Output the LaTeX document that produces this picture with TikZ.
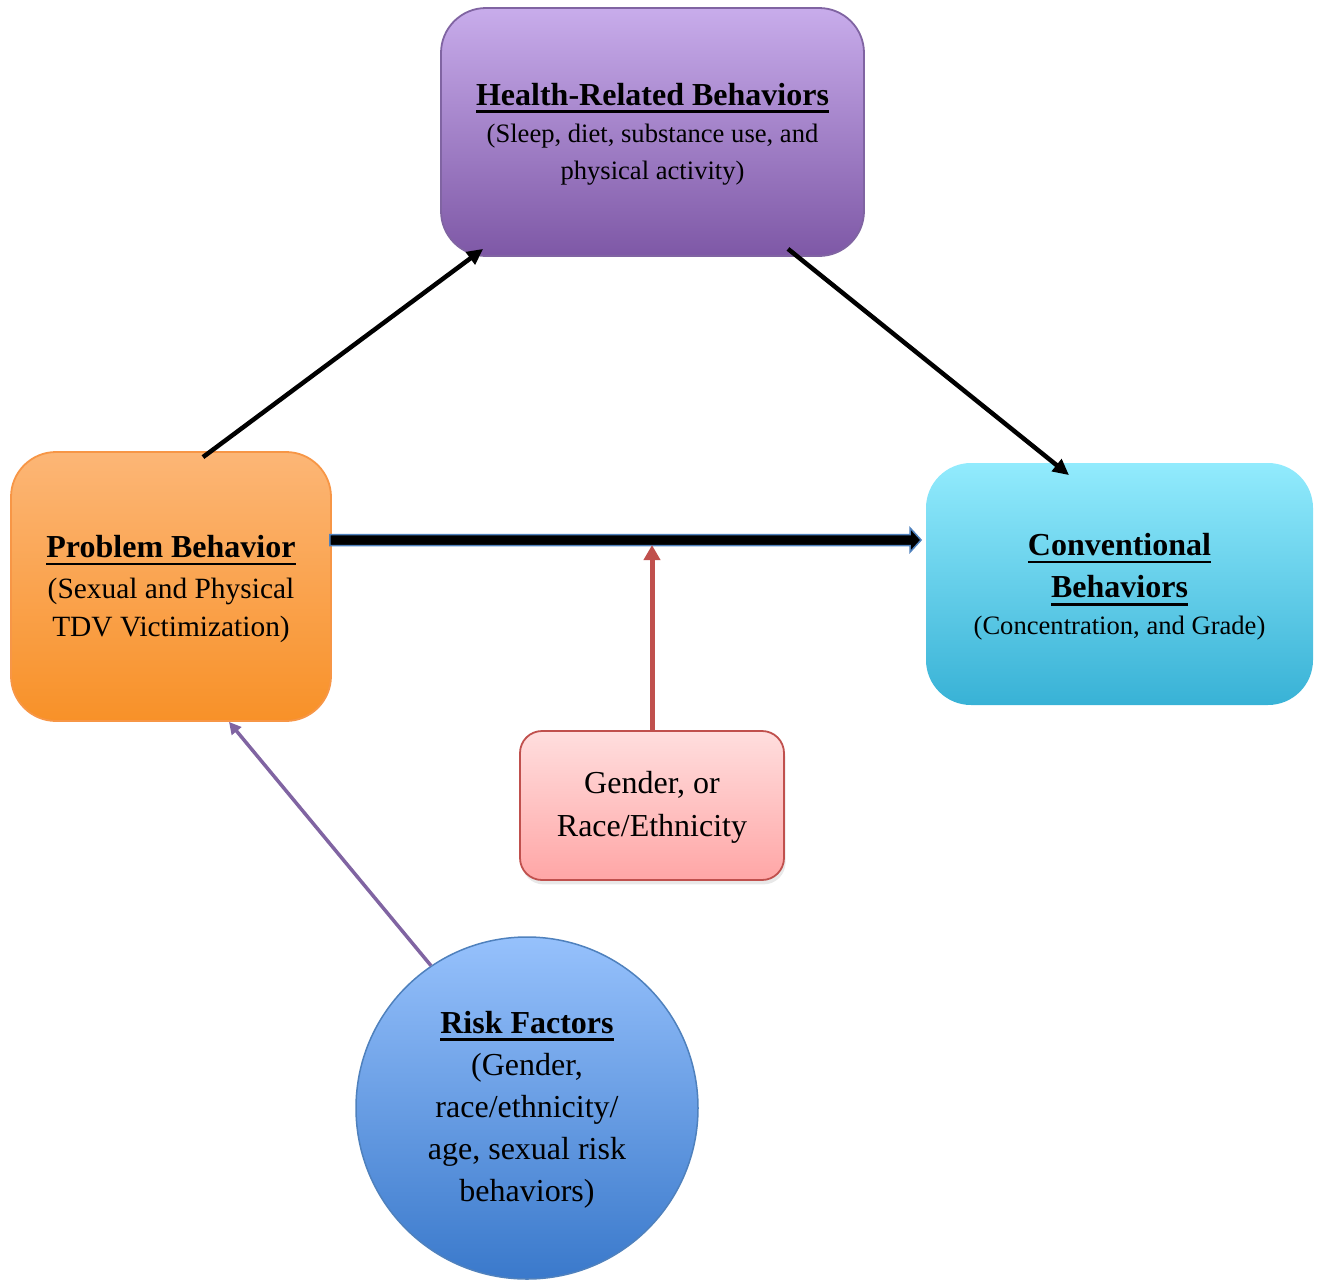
\documentclass[tikz,border=0pt]{standalone}
\usepackage{fontspec}
\setmainfont{Liberation Serif}
\usetikzlibrary{arrows.meta,calc,shadows}
\newsavebox\ulbox
\newcommand\ulhead[1]{\sbox\ulbox{\bfseries #1}\rlap{\rule[-3.8pt]{\wd\ulbox}{1.3pt}}\usebox\ulbox}
\newcommand\topstrut[1]{\rule{0pt}{#1}}
\definecolor{hrbT}{RGB}{200,172,235}
\definecolor{hrbB}{RGB}{126,88,166}
\definecolor{hrbD}{RGB}{128,100,162}
\definecolor{pbT}{RGB}{252,182,118}
\definecolor{pbB}{RGB}{248,145,40}
\definecolor{pbD}{RGB}{247,150,70}
\definecolor{cbT}{RGB}{146,235,253}
\definecolor{cbB}{RGB}{56,178,214}
\definecolor{grT}{RGB}{255,222,222}
\definecolor{grB}{RGB}{255,166,166}
\definecolor{grD}{RGB}{192,80,77}
\definecolor{rfT}{RGB}{150,193,252}
\definecolor{rfB}{RGB}{58,121,203}
\definecolor{rfD}{RGB}{79,129,189}
\definecolor{purpleArrow}{RGB}{128,100,162}
\begin{document}
\begin{tikzpicture}[x=0.5pt,y=-0.5pt,
  box/.style={rectangle, rounded corners=22.5pt, inner sep=0pt, align=center, line width=0.9pt},
  blackarrow/.style={line width=2.25pt, black, -{Triangle[length=8pt,width=7.5pt]}},
  redarrow/.style={line width=2.5pt, grD, -{Triangle[length=7.5pt,width=8pt]}},
  purplearrow/.style={line width=1.75pt, purpleArrow, -{Triangle[length=6pt,width=6pt]}},
  blockarrow/.style={fill=black, draw=rfD, line width=0.75pt, line join=miter}
]
\useasboundingbox (0,0) rectangle (1322,1280);

\node[box, minimum width=211.5pt, minimum height=124pt, top color=hrbT, bottom color=hrbB, draw=hrbD,
      font=\fontsize{13.3pt}{18.5pt}\selectfont] (hrb) at (652.5,132)
  {{\fontsize{16pt}{18.5pt}\selectfont\topstrut{12.9pt}\ulhead{Health-Related Behaviors}}\\
   (Sleep, diet, substance use, and\\ physical activity)};

\node[box, minimum width=160pt, minimum height=134.5pt, top color=pbT, bottom color=pbB, draw=pbD,
      font=\fontsize{14.7pt}{19.3pt}\selectfont] (pb) at (171,586.5)
  {{\fontsize{16pt}{19.3pt}\selectfont\topstrut{13.9pt}\ulhead{Problem Behavior}}\\[1pt]
   (Sexual and Physical\\ TDV Victimization)};

\node[box, minimum width=193.5pt, minimum height=121pt, top color=cbT, bottom color=cbB, draw=none,
      font=\fontsize{13.3pt}{18.3pt}\selectfont] (cb) at (1119.5,584)
  {{\fontsize{16pt}{18.3pt}\selectfont\topstrut{13.9pt}\ulhead{Conventional}}\\[2.9pt]
   {\fontsize{16pt}{18.3pt}\selectfont\ulhead{Behaviors}}\\
   (Concentration, and Grade)};

\node[box, rounded corners=11pt, minimum width=132pt, minimum height=74.5pt, top color=grT, bottom color=grB, draw=grD,
      drop shadow={shadow xshift=0.8pt, shadow yshift=-2.2pt, opacity=0.18},
      font=\fontsize{16pt}{21.7pt}\selectfont] (gr) at (652,805.5)
  {\topstrut{12.7pt}Gender, or\\ Race/Ethnicity};

\node[circle, inner sep=0pt, minimum size=171pt, align=center, top color=rfT, bottom color=rfB, draw=rfD, line width=0.75pt,
      font=\fontsize{16pt}{21pt}\selectfont] (rf) at (527,1108)
  {\topstrut{12.8pt}\ulhead{Risk Factors}\\ (Gender,\\ race/ethnicity/\\ age, sexual risk\\ behaviors)};

% connectors
\draw[blackarrow] ($(pb.north)+(32,6)$) -- ($(hrb.south west)+(43,-8)$);
\draw[blackarrow] ($(hrb.south)+(135.5,-8)$) -- ($(cb.north)+(-50.5,13)$);

\coordinate (s) at ($(pb.east)+(-2,-46.5)$);
\coordinate (e) at ($(cb.west)+(-4,-44)$);
\filldraw[blockarrow] ($(s)+(0,-5.5)$) -- ($(e)+(-11,-5.5)$) -- ($(e)+(-11,-12)$) -- (e)
  -- ($(e)+(-11,12)$) -- ($(e)+(-11,5.5)$) -- ($(s)+(0,5.5)$) -- cycle;

\draw[redarrow] (gr.north) -- ($(gr.north |- s)+(0,5)$);
\draw[purplearrow] (rf.124) -- ($(pb.south)+(58,0)$);
\end{tikzpicture}
\end{document}
